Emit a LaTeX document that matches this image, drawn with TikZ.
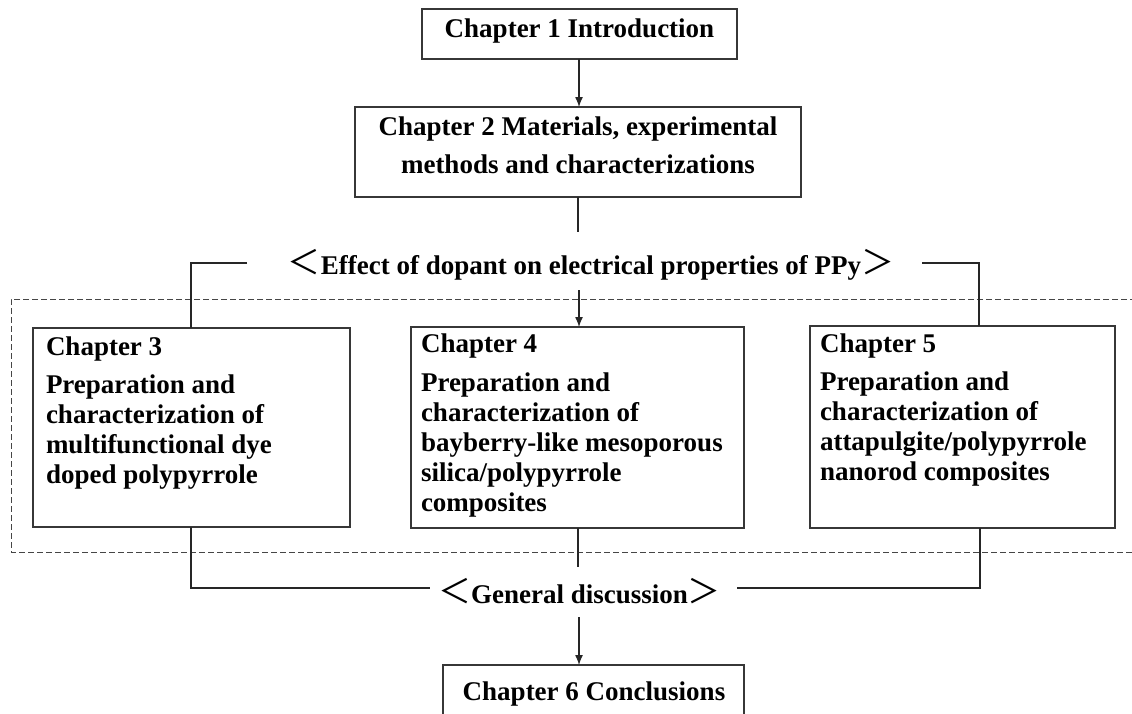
\documentclass[tikz,border=0pt]{standalone}
\usepackage{fontspec}
\setmainfont{Liberation Serif}
\newfontfamily\cjk{Noto Sans CJK SC}
\usetikzlibrary{arrows.meta}
\definecolor{boxgray}{RGB}{55,55,55}
\definecolor{dashgray}{RGB}{70,70,70}
\newcommand{\lbr}{{\cjk\mdseries\fontsize{33}{33}\selectfont ＜}}
\newcommand{\rbr}{{\cjk\mdseries\fontsize{33}{33}\selectfont ＞}}
\begin{document}
\begin{tikzpicture}[x=1pt,y=-1pt,
  box/.style={draw=boxgray, line width=1.4pt, inner sep=0pt, outer sep=0pt, anchor=north west},
  lbl/.style={inner sep=0pt, outer sep=0pt, font=\fontsize{27}{30}\selectfont\bfseries},
  conn/.style={draw=black!85, line width=1.3pt},
  arr/.style={conn, -{Latex[length=10pt,width=8pt]}}]
\useasboundingbox (0,0) rectangle (1132,713);
\clip (0,0) rectangle (1132,713);
% dashed frame
\draw[dashgray, line width=0.9pt, dash pattern=on 6pt off 3pt] (1145,299) -- (11,299) -- (11,552) -- (1145,552);
% boxes
\node[box, minimum width=315pt, minimum height=50pt] (ch1) at (422,9) {};
\node[box, minimum width=446pt, minimum height=90pt] (ch2) at (355,107) {};
\node[box, minimum width=317pt, minimum height=199pt] (ch3) at (33,328) {};
\node[box, minimum width=333pt, minimum height=201pt] (ch4) at (411,327) {};
\node[box, minimum width=305pt, minimum height=202pt] (ch5) at (810,326) {};
\node[box, minimum width=301pt, minimum height=70pt] (ch6) at (443,665) {};
% labels
\node[lbl, anchor=base] (t1) at (579.5,37) {Chapter 1 Introduction};
\node[lbl, anchor=base] (t2) at (578,135) {\parbox[t]{440pt}{\centering Chapter 2 Materials, experimental\\[8pt] methods and characterizations}};
\node[lbl, anchor=base west] (t3) at (46,355) {\parbox[t]{300pt}{\raggedright Chapter 3\\[8pt] Preparation and\\ characterization of\\ multifunctional dye\\ doped polypyrrole}};
\node[lbl, anchor=base west] (t4) at (421,352) {\parbox[t]{320pt}{\raggedright Chapter 4\\[9pt] Preparation and\\ characterization of\\ bayberry-like mesoporous\\ silica/polypyrrole\\ composites}};
\node[lbl, anchor=base west] (t5) at (820,352) {\parbox[t]{295pt}{\raggedright Chapter 5\\[8pt] Preparation and\\ characterization of\\ attapulgite/polypyrrole\\ nanorod composites}};
\node[lbl, anchor=base] (t6) at (594,700) {Chapter 6 Conclusions};
\node[lbl, anchor=base] (eff) at (591,274) {\lbr Effect of dopant on electrical properties of PPy\rbr};
\node[lbl, anchor=base] (gen) at (579.5,603) {\lbr General discussion\rbr};
% connector end points
\coordinate (c2b) at (578,232);
\coordinate (effL) at (247,263);
\coordinate (effR) at (922,263);
\coordinate (effM) at (579,290);
\coordinate (genL) at (430,588);
\coordinate (genR) at (737,588);
\coordinate (genM) at (578,567);
\coordinate (genD) at (579,617);
% connectors
\draw[arr] (ch1.south -| 579,0) -- (ch2.north -| 579,0);
\draw[conn] (ch2.south -| 578,0) -- (c2b);
\draw[conn] (effL) -- (191,263) -- (ch3.north -| 191,0);
\draw[conn] (effR) -- (979,263) -- (ch5.north -| 979,0);
\draw[arr] (effM) -- (ch4.north -| 579,0);
\draw[conn] (ch3.south -| 191,0) -- (191,588) -- (genL);
\draw[conn] (ch5.south -| 980,0) -- (980,588) -- (genR);
\draw[conn] (ch4.south -| 578,0) -- (genM);
\draw[arr] (genD) -- (ch6.north -| 579,0);
\end{tikzpicture}
\end{document}
